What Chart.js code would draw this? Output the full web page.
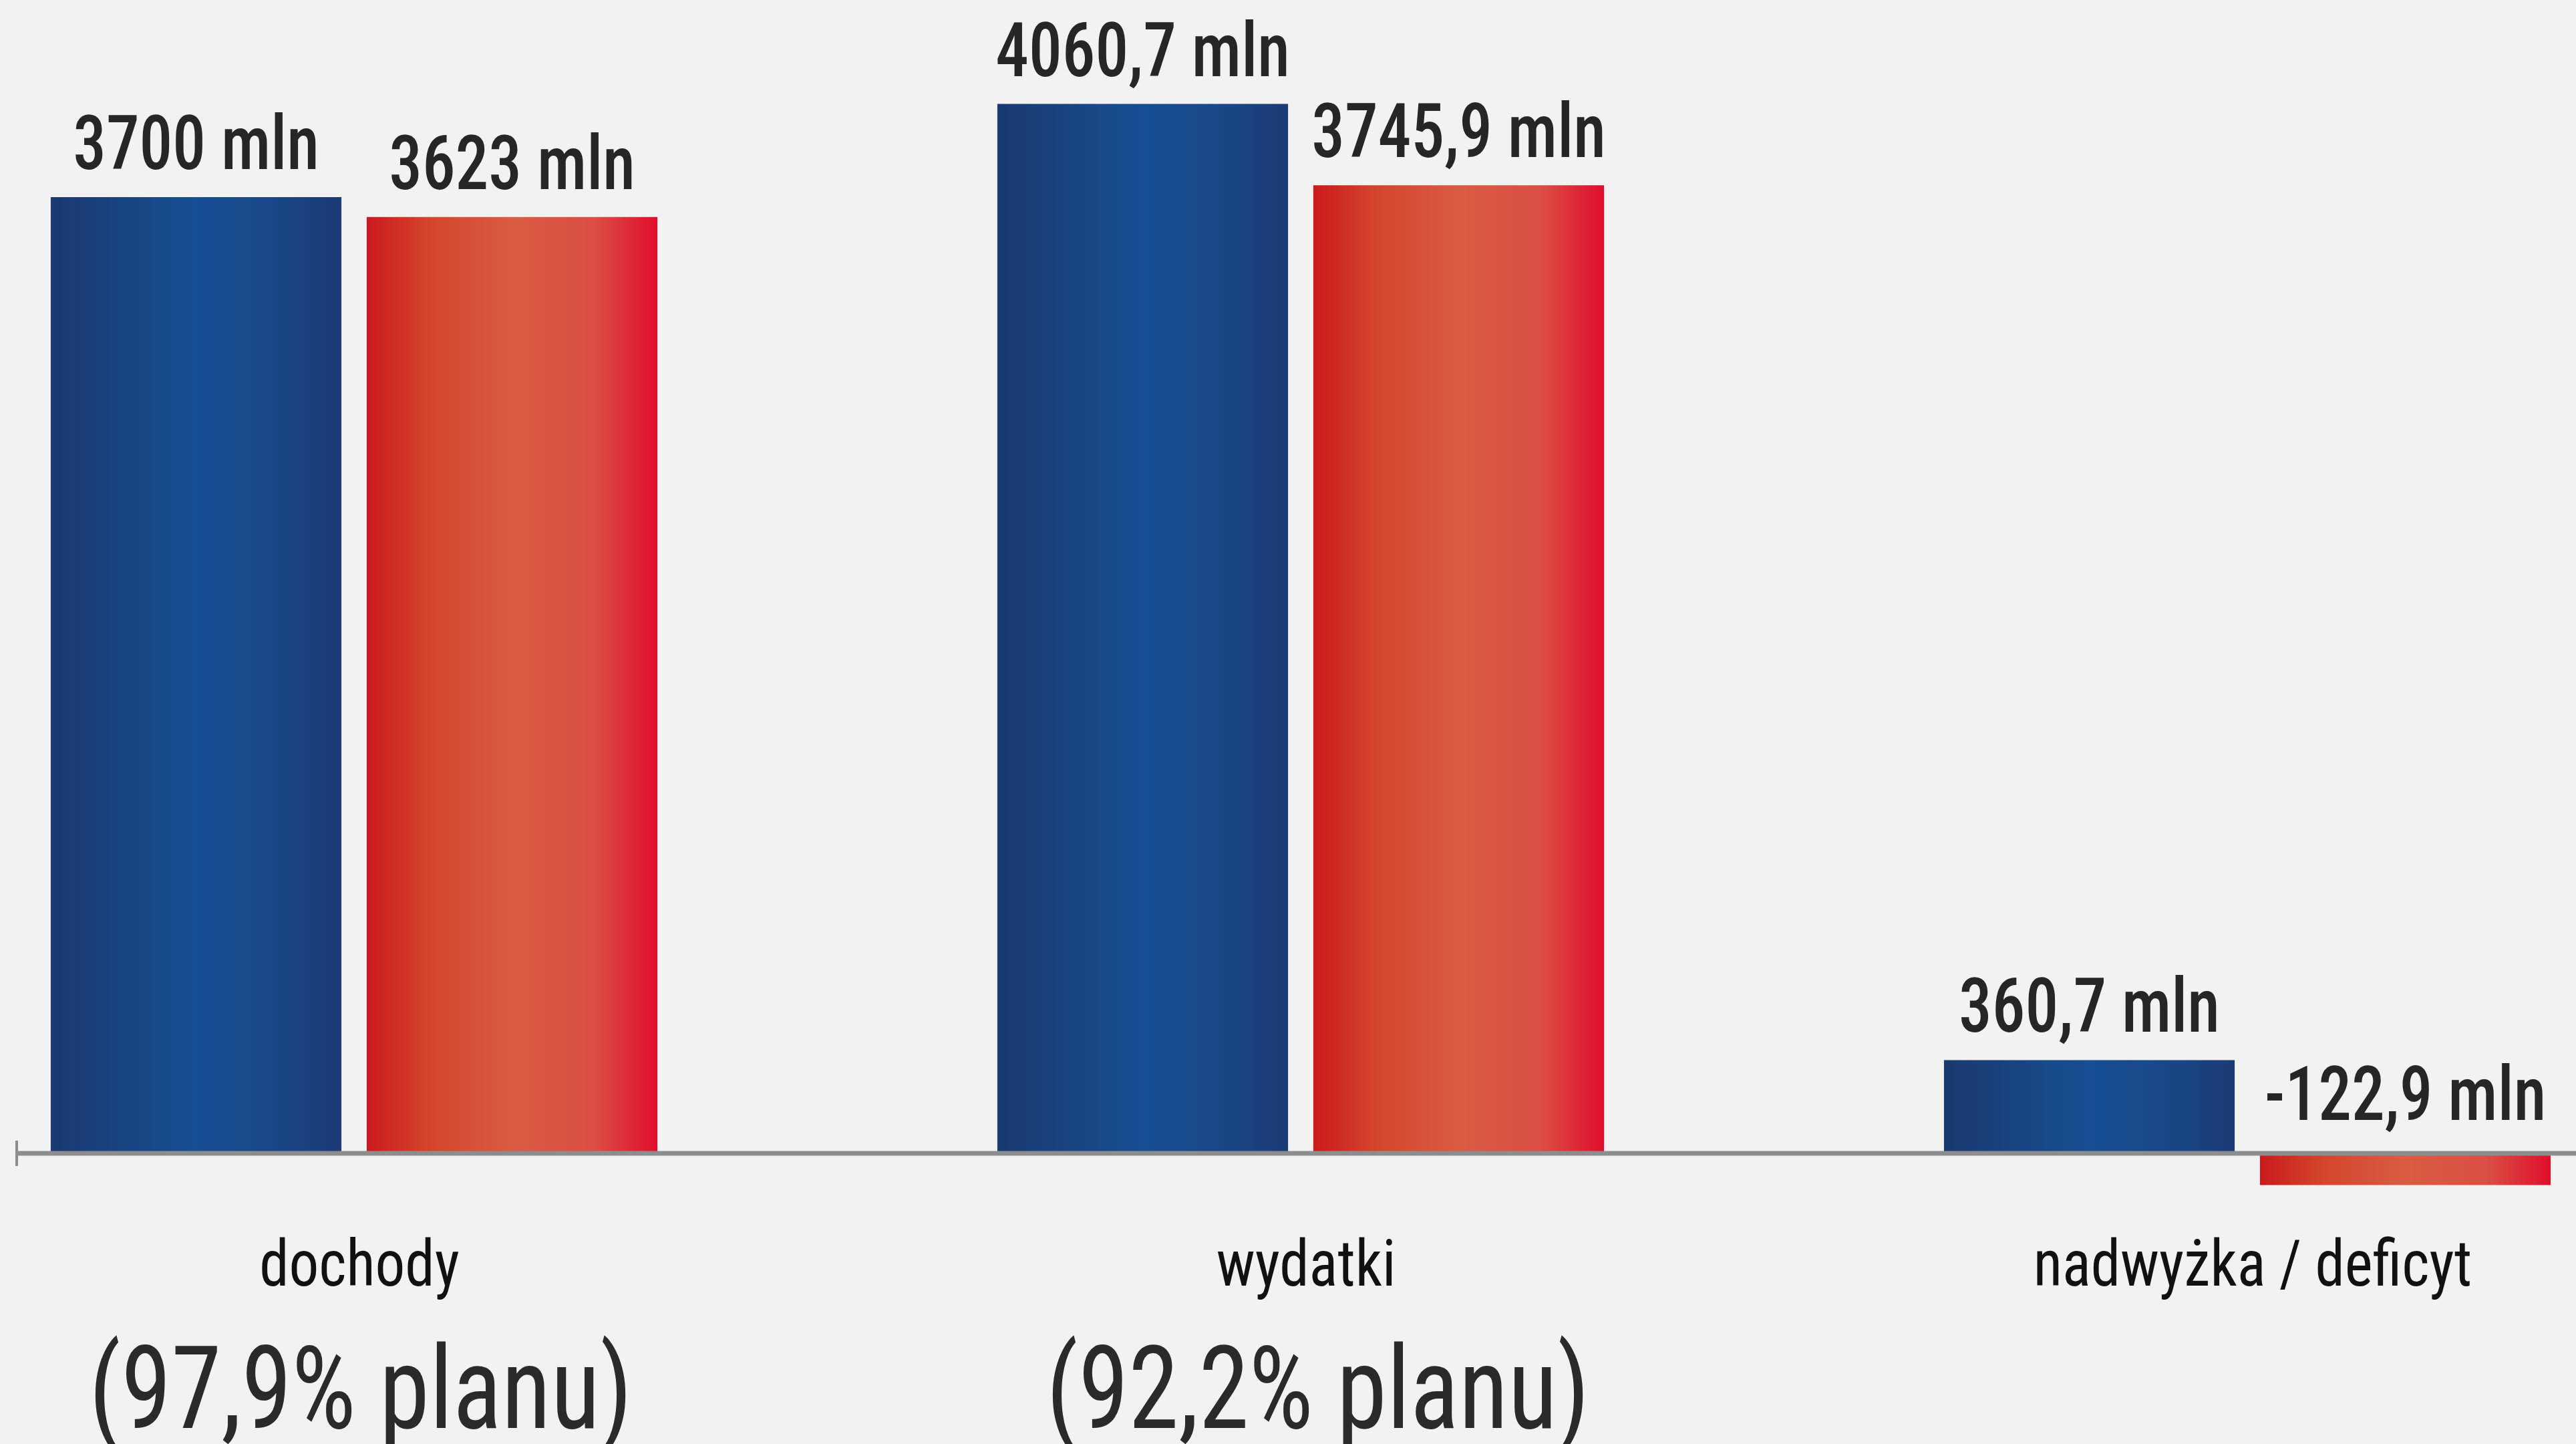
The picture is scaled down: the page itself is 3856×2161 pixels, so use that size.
<!DOCTYPE html>
<html lang="pl">
<head>
<meta charset="utf-8">
<title>Dochody i wydatki</title>
<script src="https://cdn.jsdelivr.net/npm/chart.js@4.4.1/dist/chart.umd.min.js"></script>
<style>
  html, body { margin: 0; padding: 0; background: #f2f2f2; }
  #wrap { width: 3856px; height: 2161px; position: relative; }
</style>
</head>
<body>
<div id="wrap"><canvas id="budget-chart"></canvas></div>
<script>
const categories = ["dochody", "wydatki", "nadwyżka / deficyt"];
const planValues = [3700, 4060.7, 360.7];
const actualValues = [3623, 3745.9, -122.9];
const planPercent = ["(97,9% planu)", "(92,2% planu)", ""];

const narrowFont = '"Roboto Condensed", "Liberation Sans Narrow", "DejaVu Sans Condensed", sans-serif';

const blueStops = [[0, "#1a3a70"], [0.5, "#174f92"], [0.8, "#1a4686"], [1, "#1b3b74"]];
const redStops = [[0, "#cb1a1c"], [0.22, "#d4462d"], [0.5, "#d95c43"], [0.78, "#db4f44"], [1, "#e00e2c"]];

function formatMln(v) {
  return String(v).replace(".", ",") + " mln";
}

// horizontal gradient across one bar; falls back to a flat colour until the bar has a position
function gradientFor(stops, fallback) {
  return (c) => {
    const el = c.element;
    if (!el || !Number.isFinite(el.x) || !el.width) return fallback;
    const g = c.chart.ctx.createLinearGradient(el.x - el.width / 2, 0, el.x + el.width / 2, 0);
    stops.forEach((s) => g.addColorStop(s[0], s[1]));
    return g;
  };
}

// the font in the original is narrower than anything installed, so squeeze it a bit
function squeezedText(ctx, text, x, y, font, color, sx) {
  ctx.save();
  ctx.font = font;
  ctx.fillStyle = color;
  ctx.textAlign = "center";
  ctx.textBaseline = "alphabetic";
  ctx.translate(x, y);
  ctx.scale(sx, 1);
  ctx.fillText(text, 0, 0);
  ctx.restore();
}

// zero line, value labels and category captions
const annotations = {
  id: "annotations",
  afterDatasetsDraw(chart) {
    const ctx = chart.ctx;
    const y0 = chart.scales.y.getPixelForValue(0);
    ctx.save();
    ctx.strokeStyle = "#8d8d8f";
    ctx.lineWidth = 7;
    ctx.beginPath();
    ctx.moveTo(25, y0);
    ctx.lineTo(chart.width, y0);
    ctx.stroke();
    ctx.lineWidth = 4;
    ctx.beginPath();
    ctx.moveTo(25, y0 - 19);
    ctx.lineTo(25, y0 + 19);
    ctx.stroke();
    ctx.restore();

    chart.data.datasets.forEach((ds, i) => {
      chart.getDatasetMeta(i).data.forEach((el, j) => {
        const v = ds.data[j];
        const y = v >= 0 ? el.y - 42 : y0 - 50;
        squeezedText(ctx, formatMln(v), el.x, y, "500 113px " + narrowFont, "#262626", 0.88);
      });
    });

    categories.forEach((c, i) => {
      const x = chart.scales.x.getPixelForValue(i);
      squeezedText(ctx, c, x + 8, y0 + 198, "400 97px " + narrowFont, "#111111", 0.92);
      if (planPercent[i]) {
        squeezedText(ctx, planPercent[i], x + 10 + i * 16, y0 + 411, "400 173px " + narrowFont, "#2a2a2a", 0.88);
      }
    });
  },
};

const chart = new Chart(document.getElementById("budget-chart"), {
  type: "bar",
  data: {
    labels: categories,
    datasets: [
      { label: "plan", data: planValues, clip: false, backgroundColor: gradientFor(blueStops, "#174f92") },
      { label: "wykonanie", data: actualValues, clip: false, backgroundColor: gradientFor(redStops, "#d95c43") },
    ],
  },
  options: {
    responsive: true,
    maintainAspectRatio: false,
    animation: false,
    categoryPercentage: 0.6676,
    barPercentage: 0.92,
    borderSkipped: false,
    layout: { padding: { top: 63, bottom: 319, left: 530, right: 492 } },
    plugins: {
      legend: { display: false },
      tooltip: { enabled: false },
    },
    scales: {
      x: { display: false, offset: false, grid: { display: false } },
      y: { display: false, min: -300, max: 4300, grid: { display: false } },
    },
  },
  plugins: [annotations],
});
// second pass so the gradients see the final bar positions
chart.update();
</script>
</body>
</html>
